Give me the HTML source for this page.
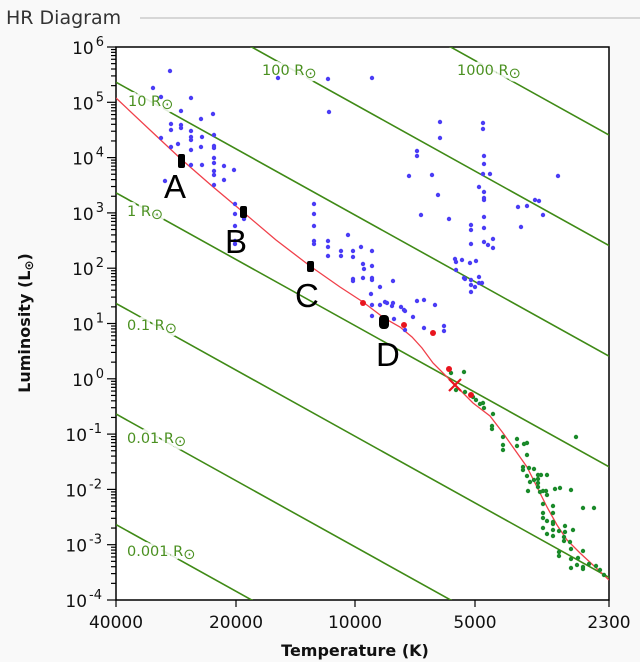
<!DOCTYPE html>
<html><head><meta charset="utf-8"><style>
html,body{margin:0;padding:0;background:#f9f9f9;overflow:hidden;width:640px;height:662px;}
svg{display:block;}
</style></head><body>
<svg id="s" width="640" height="662" xmlns="http://www.w3.org/2000/svg" font-family="DejaVu Sans, Liberation Sans, sans-serif">
<rect width="640" height="662" fill="#f9f9f9"/>
<text x="6" y="24" font-size="19" fill="#333">HR Diagram</text>
<line x1="140" y1="18" x2="640" y2="18" stroke="#ccc" stroke-width="1.5"/>
<rect x="116" y="47" width="493" height="553" fill="#fff" stroke="#000" stroke-width="1.5"/>
<defs><clipPath id="c"><rect x="116" y="47" width="493" height="553"/></clipPath></defs>
<g id="lines" clip-path="url(#c)" stroke="#3f8a16" stroke-width="1.6"></g>
<g id="halo" font-size="14.5" fill="#fff" stroke="#fff" stroke-width="7" stroke-opacity="0.85" stroke-linejoin="round"></g>
<g id="labels" font-size="14.5" fill="#4a9020"></g>
<path id="ms" fill="none" stroke="#f0404a" stroke-width="1.3" clip-path="url(#c)"/>
<g id="dots"></g>
<g id="axes" stroke="#000" stroke-width="1.2"></g>
<g id="tl" font-size="17" fill="#111"></g>
<text x="30" y="323" font-size="16" font-weight="bold" fill="#111" text-anchor="middle" transform="rotate(-90 30 323)">Luminosity (L<tspan font-size="12" dy="3">⊙</tspan><tspan dy="-3">)</tspan></text>
<text x="355" y="656" font-size="16" font-weight="bold" fill="#111" text-anchor="middle">Temperature (K)</text>
<g font-family="Liberation Sans, sans-serif" font-size="33" fill="#000">
<text x="164" y="198">A</text><text x="225" y="253">B</text><text x="295" y="307">C</text><text x="376" y="366">D</text>
</g>
<g fill="#000">
<rect x="178" y="154" width="7" height="14" rx="2"/>
<rect x="240" y="206" width="7" height="12" rx="2"/>
<rect x="307" y="261" width="7" height="11" rx="2"/>
<rect x="379" y="315" width="10" height="14" rx="4"/>
</g>
<g stroke="#e8141e" stroke-width="2.2"><line x1="449" y1="379" x2="461" y2="391"/><line x1="461" y1="379" x2="449" y2="391"/></g>
</svg>
<script>
const NS="http://www.w3.org/2000/svg";
function el(p,t,a,txt){const e=document.createElementNS(NS,t);for(const k in a)e.setAttribute(k,a[k]);if(txt!==undefined)e.textContent=txt;document.getElementById(p).appendChild(e);return e;}
const Rs=[[524.6,"0.001",127,556],[414,"0.01",127,443],[303.4,"0.1",127,330],[192.8,"1",127,216],[82.2,"10",128,106],[-28.4,"100",262,75],[-139,"1000",457,75]];
Rs.forEach(r=>{el('lines','line',{x1:116,y1:r[0],x2:609,y2:r[0]+274});
 ['halo','labels'].forEach(g=>{const t=el(g,'text',{x:r[2],y:r[3]});t.textContent=r[1]+" R";
 const ts=document.createElementNS(NS,'tspan');ts.setAttribute('dy','3');ts.textContent='⊙';t.appendChild(ts);});});
const mp=[[116,98],[150,130],[181,159],[212,186],[243,212],[276,240],[310,266],[340,287],[363,302],[384,318],[400,327],[412,337],[422,348],[433,363],[447,377],[460,390],[473,403],[490,416],[503,433],[515,450],[527,467],[537,487],[547,507],[557,525],[567,540],[580,553],[593,565],[609,580]];
document.getElementById('ms').setAttribute('d','M'+mp.map(p=>p.join(',')).join(' L'));
const blue=[[170,71],[153,88],[161,97],[191,98],[181,111],[213,114],[181,125],[171,124],[201,119],[181,128],[171,130],[191,131],[191,137],[191,140],[202,137],[161,138],[201,147],[171,147],[178,144],[191,150],[214,135],[214,146],[214,148],[214,158],[202,165],[191,165],[214,163],[214,171],[224,166],[214,175],[224,180],[234,170],[214,185],[165,181],[235,204],[235,214],[235,226],[235,241],[235,244],[328,79],[278,78],[372,78],[329,112],[244,219],[314,204],[314,214],[314,226],[314,241],[314,244],[328,241],[328,247],[328,256],[348,235],[341,251],[341,256],[353,251],[353,257],[361,247],[363,264],[372,251],[372,266],[364,269],[372,278],[353,279],[353,281],[363,278],[372,280],[380,287],[371,294],[380,305],[372,305],[385,302],[392,306],[401,307],[372,316],[394,319],[405,311],[413,317],[405,330],[440,122],[440,138],[417,151],[417,156],[409,176],[432,175],[438,195],[421,215],[449,219],[483,123],[483,129],[484,156],[484,164],[490,174],[483,174],[479,187],[484,192],[484,198],[484,200],[484,217],[484,228],[471,225],[471,230],[471,244],[484,242],[493,239],[488,245],[493,248],[455,259],[456,262],[462,260],[456,270],[470,263],[476,261],[464,278],[465,279],[471,280],[471,285],[479,283],[479,277],[482,283],[475,287],[471,292],[558,176],[518,207],[527,206],[535,200],[539,201],[543,215],[521,227],[393,281],[387,303],[393,303],[417,301],[424,300],[435,305],[404,310],[424,328],[444,326],[444,331]];
blue.forEach(p=>el('dots','circle',{cx:p[0],cy:p[1],r:2.2,fill:'#4a3cf5'}));
const green=[[451,373],[464,372],[456,390],[465,392],[473,397],[476,400],[480,404],[483,403],[484,408],[493,414],[492,426],[492,429],[503,437],[503,445],[503,450],[517,439],[517,446],[524,444],[527,443],[527,455],[576,437],[523,467],[523,470],[529,468],[534,469],[538,475],[538,479],[538,483],[527,476],[534,480],[530,482],[541,475],[547,475],[538,487],[528,491],[540,492],[543,491],[546,491],[547,495],[555,489],[560,488],[571,490],[543,504],[553,506],[543,513],[553,513],[543,518],[547,521],[553,522],[543,528],[553,530],[547,534],[553,536],[583,508],[594,508],[553,524],[565,526],[565,532],[559,531],[573,530],[564,537],[564,541],[570,542],[571,549],[559,552],[559,556],[571,559],[578,558],[583,551],[577,565],[571,568],[583,567],[583,569],[589,564],[596,566],[600,570],[604,575]];
green.forEach(p=>el('dots','circle',{cx:p[0],cy:p[1],r:2.2,fill:'#1a8a2a'}));
[[363,303],[404,325],[433,333],[449,369],[471,395]].forEach(p=>el('dots','circle',{cx:p[0],cy:p[1],r:3,fill:'#e8141e'}));
for(let d=0;d<=10;d++){const y=47+d*55.3,e=6-d;
 el('axes','line',{x1:107,y1:y,x2:116,y2:y});
 if(d<10)for(let m=2;m<10;m++){const yy=y+55.3-Math.log10(m)*55.3;el('axes','line',{x1:111,y1:yy,x2:116,y2:yy});}
 const t=el('tl','text',{x:e<0?102:104,y:y+7,'text-anchor':'end'});
 const a=document.createElementNS(NS,'tspan');a.textContent='10';t.appendChild(a);
 const b=document.createElementNS(NS,'tspan');b.setAttribute('dy','-8');b.setAttribute('font-size','13');b.setAttribute('dx','2');b.textContent=(e<0?'-':'')+Math.abs(e);t.appendChild(b);}
[[40000,116],[20000,236],[10000,355],[5000,475],[2300,609]].forEach(p=>{el('axes','line',{x1:p[1],y1:600,x2:p[1],y2:607});el('tl','text',{x:p[1],y:628,'text-anchor':'middle'},String(p[0]));});
</script>
</body></html>
